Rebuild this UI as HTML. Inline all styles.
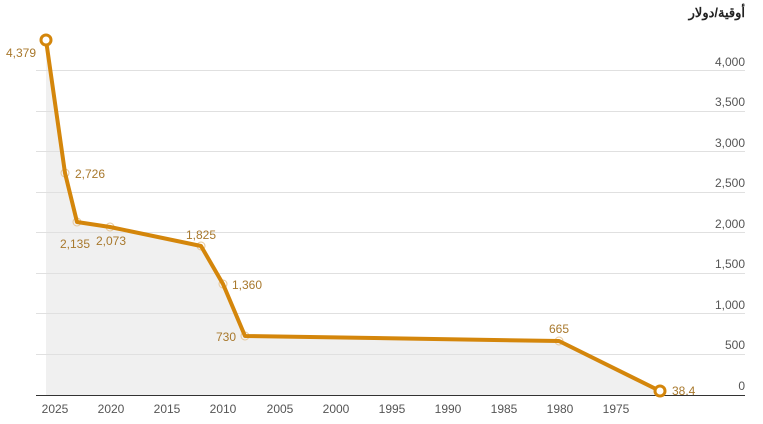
<!DOCTYPE html>
<html><head><meta charset="utf-8"><style>
html,body{margin:0;padding:0;background:#fff;}
svg{display:block;font-family:"Liberation Sans","Noto Sans CJK SC",sans-serif;}
.t{font-size:12px;fill:#555;}
.l{font-size:12px;fill:#a8782c;}
</style></head><body>
<svg width="763" height="424" viewBox="0 0 763 424">
<polygon points="46,40 65,173 77,222 110,227 201,246 223,284 245,336 559,341 660,391 660,395 46,395" fill="#f0f0f0"/>
<g stroke="#e0e0e0" stroke-width="1">
<line x1="36" x2="745" y1="70.5" y2="70.5"/><line x1="36" x2="745" y1="111.5" y2="111.5"/>
<line x1="36" x2="745" y1="151.5" y2="151.5"/><line x1="36" x2="745" y1="192.5" y2="192.5"/>
<line x1="36" x2="745" y1="232.5" y2="232.5"/><line x1="36" x2="745" y1="273.5" y2="273.5"/>
<line x1="36" x2="745" y1="313.5" y2="313.5"/><line x1="36" x2="745" y1="354.5" y2="354.5"/>
</g>
<line x1="36" x2="745" y1="395.5" y2="395.5" stroke="#333" stroke-width="1"/>
<g class="t" text-anchor="end">
<text x="745" y="66">4,000</text><text x="745" y="106">3,500</text><text x="745" y="147">3,000</text>
<text x="745" y="187">2,500</text><text x="745" y="228">2,000</text><text x="745" y="268">1,500</text>
<text x="745" y="309">1,000</text><text x="745" y="349">500</text><text x="745" y="390">0</text>
</g>
<text x="745" y="17" text-anchor="end" style="font-size:13px;font-weight:bold;fill:#222">أوقية/دولار</text>
<g class="t" text-anchor="middle">
<text x="55" y="413">2025</text><text x="111" y="413">2020</text><text x="167" y="413">2015</text>
<text x="223" y="413">2010</text><text x="280" y="413">2005</text><text x="336" y="413">2000</text>
<text x="392" y="413">1995</text><text x="448" y="413">1990</text><text x="504" y="413">1985</text>
<text x="560" y="413">1980</text><text x="616" y="413">1975</text>
</g>
<g fill="none" stroke="#e6c79a" stroke-width="1">
<circle cx="65" cy="173" r="4"/><circle cx="77" cy="222" r="4"/><circle cx="110" cy="227" r="4"/>
<circle cx="201" cy="246" r="4"/><circle cx="223" cy="284" r="4"/><circle cx="245" cy="336" r="4"/>
<circle cx="559" cy="341" r="4"/>
</g>
<polyline points="46,40 65,173 77,222 110,227 201,246 223,284 245,336 559,341 660,391" fill="none" stroke="#d4860b" stroke-width="4" stroke-linejoin="round"/>
<circle cx="46" cy="40" r="5" fill="#fff" stroke="#d4860b" stroke-width="3"/>
<circle cx="660" cy="391" r="5" fill="#fff" stroke="#d4860b" stroke-width="3"/>
<g class="l">
<text x="6" y="57">4,379</text><text x="75" y="178">2,726</text>
<text x="60" y="248">2,135</text><text x="96" y="245">2,073</text>
<text x="186" y="239">1,825</text><text x="232" y="289">1,360</text>
<text x="216" y="341">730</text><text x="549" y="333">665</text>
<text x="672" y="395">38.4</text>
</g>
</svg>
</body></html>
